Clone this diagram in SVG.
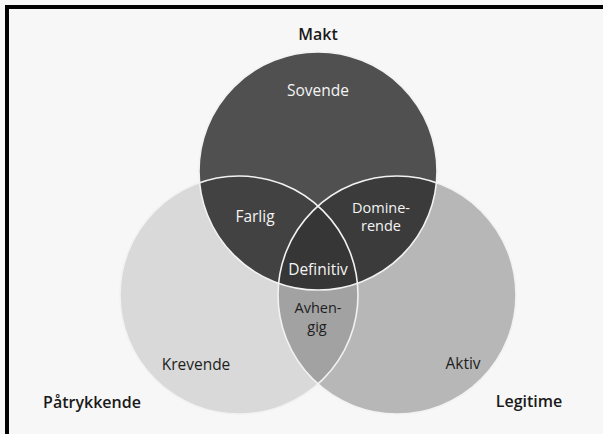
<svg xmlns="http://www.w3.org/2000/svg" width="603" height="434" viewBox="0 0 603 434">
  <style>
    .lbl { font-family: "Open Sans", "Liberation Sans", sans-serif; text-anchor: middle; }
    .outer { font-size: 16px; font-weight: 600; fill: #1a1a1a; }
    .dark { font-size: 15.5px; font-weight: 500; fill: #1e1e1e; }
    .light { font-size: 15.5px; font-weight: 500; fill: #f4f4f4; }
    .two { font-size: 14.5px; }
    .edge { fill: none; stroke: #f2f2f2; stroke-width: 1.6; }
  </style>
  <defs>
    <circle id="cTop" cx="318" cy="171" r="119"/>
    <circle id="cLeft" cx="239" cy="295" r="119"/>
    <circle id="cRight" cx="397" cy="295" r="119"/>
    <clipPath id="clipTop"><use href="#cTop"/></clipPath>
    <clipPath id="clipLeft"><use href="#cLeft"/></clipPath>
    <clipPath id="clipRight"><use href="#cRight"/></clipPath>
  </defs>

  <rect x="0" y="0" width="603" height="434" fill="#f7f7f7"/>
  <!-- frame -->
  <rect x="5" y="5" width="598" height="4" fill="#000"/>
  <rect x="5" y="5" width="4" height="429" fill="#000"/>

  <g id="patrykkende">
    <use href="#cLeft" fill="#d9d9d9"/>
  </g>
  <g id="legitime">
    <use href="#cRight" fill="#b7b7b7"/>
    <g clip-path="url(#clipLeft)"><use href="#cRight" fill="#a2a2a2"/></g>
  </g>
  <g id="makt">
    <use href="#cTop" fill="#505050"/>
    <g clip-path="url(#clipTop)"><use href="#cLeft" fill="#424242"/></g>
    <g clip-path="url(#clipTop)"><use href="#cRight" fill="#3b3b3b"/></g>
    <g clip-path="url(#clipTop)"><g clip-path="url(#clipLeft)"><use href="#cRight" fill="#363636"/></g></g>
  </g>
  <g id="edges">
    <use href="#cLeft" class="edge"/>
    <use href="#cRight" class="edge"/>
    <use href="#cTop" class="edge"/>
  </g>

  <g id="label-makt"><text class="lbl outer" x="318" y="40">Makt</text></g>
  <g id="label-patrykkende"><text class="lbl outer" x="92" y="408">Påtrykkende</text></g>
  <g id="label-legitime"><text class="lbl outer" x="529" y="407">Legitime</text></g>
  <g id="sovende"><text class="lbl light" x="318" y="96">Sovende</text></g>
  <g id="farlig"><text class="lbl light" x="255" y="222">Farlig</text></g>
  <g id="dominerende"><text class="lbl light two" x="381" y="213">Domine-</text><text class="lbl light two" x="381" y="231">rende</text></g>
  <g id="definitiv"><text class="lbl light" x="318" y="275">Definitiv</text></g>
  <g id="avhengig"><text class="lbl dark two" x="318" y="313">Avhen-</text><text class="lbl dark two" x="317" y="332">gig</text></g>
  <g id="krevende"><text class="lbl dark" x="196" y="370">Krevende</text></g>
  <g id="aktiv"><text class="lbl dark" x="463" y="369">Aktiv</text></g>
</svg>
